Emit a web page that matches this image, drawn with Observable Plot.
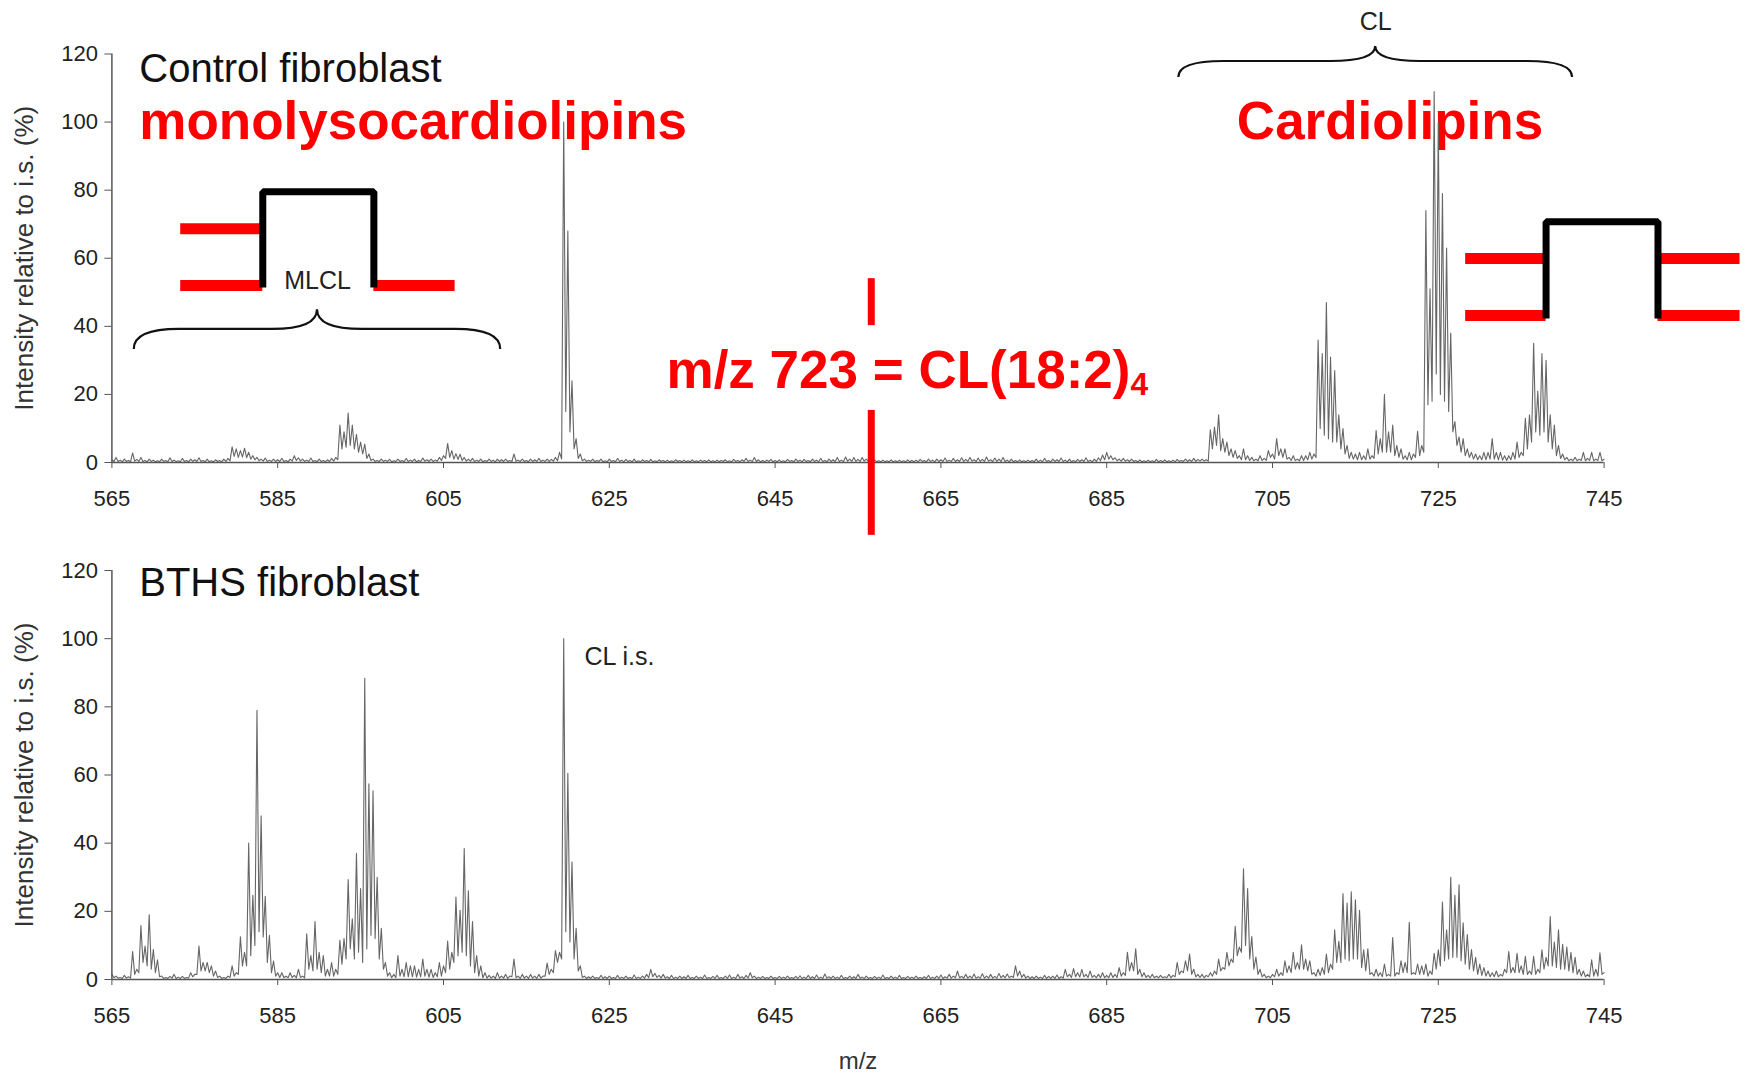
<!DOCTYPE html>
<html>
<head>
<meta charset="utf-8">
<script src="https://cdn.jsdelivr.net/npm/d3@7"></script>
<script src="https://cdn.jsdelivr.net/npm/@observablehq/plot@0.6"></script>
<style>
  body { margin: 0; background: #fff; }
  #fig { position: relative; width: 1746px; height: 1075px; font-family: "Liberation Sans", Arial, Helvetica, sans-serif; }
  #fig svg { position: absolute; left: 0; overflow: visible; }
</style>
</head>
<body>
<div id="fig"></div>
<script>
// Axis ticks
const xTicks = [565, 585, 605, 625, 645, 665, 685, 705, 725, 745];
const yTicks = [0, 20, 40, 60, 80, 100, 120];

// Spectra are sampled on the isotope grid: apexes every 0.5 m/z from 565,
// with one trough reading between each pair of neighbouring apexes.
const mzStart = 565;
const mzStep = 0.5;

// Control fibroblast: apex intensities (% of internal standard)
const controlPeaks = [
  0.8, 1.5, 0.7, 1.0, 0.6, 2.8, 0.9, 1.5, 0.6, 1.0,
  0.7, 0.5, 1.0, 0.6, 1.4, 0.7, 0.5, 1.2, 0.6, 1.0,
  0.8, 1.4, 0.6, 1.0, 0.5, 0.8, 0.6, 1.0, 1.2, 4.6,
  4.0, 3.5, 4.2, 3.0, 2.0, 1.5, 1.0, 1.3, 0.7, 1.0,
  0.8, 1.2, 0.6, 1.0, 2.0, 1.4, 1.0, 0.7, 1.3, 0.6,
  1.0, 0.6, 0.8, 1.2, 1.5, 11.0, 9.0, 14.5, 11.0, 8.3,
  6.0, 5.4, 2.5, 1.0, 0.6, 1.0, 0.7, 0.9, 0.5, 1.0,
  0.6, 1.2, 0.7, 1.0, 0.6, 1.3, 0.8, 1.0, 0.7, 1.5,
  2.0, 5.6, 3.5, 2.6, 2.4, 1.5, 1.0, 1.2, 0.7, 1.0,
  0.6, 1.0, 0.7, 1.0, 0.8, 1.0, 0.6, 2.5, 0.7, 1.0,
  0.6, 1.0, 0.8, 1.2, 0.7, 1.0, 0.9, 1.5, 3.0, 100,
  68, 24, 7.0, 2.5, 1.0, 0.7, 1.0, 0.6, 1.0, 0.5,
  1.0, 0.6, 1.2, 0.7, 0.9, 0.6, 1.0, 0.5, 0.8, 0.6,
  0.9, 0.5, 0.8, 0.6, 0.7, 0.5, 0.8, 0.6, 0.7, 0.5,
  0.8, 0.5, 0.7, 0.6, 0.8, 0.5, 0.7, 0.6, 0.8, 0.5,
  0.9, 0.6, 0.8, 1.2, 0.7, 1.5, 0.8, 0.6, 0.7, 0.9,
  0.6, 0.8, 0.5, 0.9, 0.6, 1.0, 0.7, 0.9, 0.6, 1.0,
  0.7, 1.2, 0.6, 1.0, 0.8, 1.5, 0.7, 1.6, 1.0, 1.5,
  0.9, 1.5, 1.0, 0.6, 0.8, 0.5, 0.7, 0.5, 0.8, 0.5,
  0.7, 0.5, 0.8, 0.6, 0.7, 0.9, 0.6, 1.0, 0.7, 1.0,
  0.8, 1.3, 0.7, 1.2, 0.8, 1.4, 0.9, 1.5, 0.8, 1.3,
  0.9, 1.6, 0.8, 1.3, 1.0, 1.5, 0.7, 1.0, 0.6, 0.8,
  0.5, 0.7, 0.6, 1.0, 0.7, 1.2, 0.6, 1.0, 0.8, 1.3,
  0.7, 1.0, 0.6, 0.9, 0.8, 1.4, 0.7, 1.0, 1.4, 2.2,
  3.0, 2.0, 1.4, 1.0, 1.2, 0.8, 1.0, 0.6, 0.8, 0.5,
  0.7, 0.5, 0.9, 0.6, 0.8, 0.5, 0.7, 0.9, 0.6, 1.0,
  0.8, 1.2, 0.9, 1.0, 0.8, 9.6, 10.4, 14.0, 7.0, 6.0,
  4.0, 3.5, 2.0, 4.0, 2.0, 1.5, 1.0, 2.0, 1.2, 3.5,
  2.5, 7.0, 4.0, 4.0, 1.5, 2.0, 1.0, 2.0, 2.0, 3.0,
  2.5, 36, 32, 47, 31, 27, 14, 10, 5.0, 3.0,
  2.5, 3.0, 2.0, 4.0, 2.0, 9.4, 7.0, 20, 9.0, 11,
  5.0, 4.0, 2.0, 3.0, 2.5, 9.2, 5.0, 74, 51, 109,
  100, 79, 63, 38, 12, 7.5, 7.0, 4.0, 3.0, 2.5,
  2.0, 3.0, 3.0, 7.0, 3.0, 3.0, 2.0, 2.0, 3.0, 6.0,
  3.0, 13, 14, 35, 21, 32, 30, 14, 11, 5.0,
  2.5, 1.5, 1.0, 1.5, 1.0, 3.0, 1.2, 3.0, 1.0, 3.0,
  1.0
];
// Control fibroblast: trough between apex i and apex i + 1
const controlValleys = [
  0.3, 0.3, 0.2, 0.3, 0.2, 0.4, 0.3, 0.3, 0.2, 0.3,
  0.2, 0.2, 0.3, 0.2, 0.3, 0.2, 0.2, 0.3, 0.2, 0.3,
  0.3, 0.3, 0.2, 0.2, 0.2, 0.3, 0.2, 0.3, 0.5, 1.8,
  1.5, 1.6, 1.4, 1.0, 0.8, 0.5, 0.4, 0.3, 0.3, 0.3,
  0.3, 0.3, 0.2, 0.4, 0.6, 0.4, 0.3, 0.3, 0.3, 0.2,
  0.3, 0.2, 0.3, 0.4, 0.8, 4.0, 4.5, 5.0, 4.0, 3.0,
  2.5, 1.2, 0.6, 0.3, 0.3, 0.3, 0.3, 0.2, 0.3, 0.3,
  0.2, 0.3, 0.3, 0.2, 0.3, 0.4, 0.3, 0.3, 0.4, 0.6,
  1.2, 1.5, 1.0, 0.9, 0.6, 0.4, 0.4, 0.3, 0.3, 0.2,
  0.3, 0.3, 0.2, 0.3, 0.3, 0.3, 0.3, 0.4, 0.3, 0.3,
  0.2, 0.3, 0.3, 0.3, 0.3, 0.3, 0.4, 0.5, 1.0, 15,
  9.0, 4.0, 1.2, 0.5, 0.3, 0.3, 0.2, 0.3, 0.2, 0.2,
  0.3, 0.2, 0.3, 0.2, 0.3, 0.2, 0.2, 0.2, 0.3, 0.2,
  0.2, 0.2, 0.3, 0.2, 0.2, 0.2, 0.3, 0.2, 0.2, 0.2,
  0.2, 0.2, 0.3, 0.2, 0.2, 0.2, 0.2, 0.3, 0.2, 0.2,
  0.3, 0.2, 0.3, 0.3, 0.3, 0.3, 0.2, 0.2, 0.3, 0.2,
  0.2, 0.2, 0.2, 0.3, 0.2, 0.3, 0.2, 0.3, 0.2, 0.3,
  0.2, 0.3, 0.2, 0.3, 0.3, 0.3, 0.3, 0.4, 0.3, 0.3,
  0.3, 0.4, 0.3, 0.2, 0.2, 0.2, 0.2, 0.2, 0.2, 0.2,
  0.2, 0.2, 0.2, 0.2, 0.2, 0.3, 0.2, 0.3, 0.2, 0.3,
  0.3, 0.3, 0.3, 0.3, 0.3, 0.3, 0.3, 0.4, 0.3, 0.3,
  0.3, 0.4, 0.3, 0.3, 0.3, 0.3, 0.2, 0.2, 0.2, 0.2,
  0.2, 0.2, 0.2, 0.2, 0.2, 0.3, 0.2, 0.3, 0.3, 0.3,
  0.2, 0.2, 0.2, 0.3, 0.3, 0.3, 0.2, 0.3, 0.5, 0.8,
  1.0, 0.8, 0.5, 0.4, 0.4, 0.3, 0.3, 0.2, 0.2, 0.2,
  0.2, 0.2, 0.2, 0.2, 0.2, 0.2, 0.2, 0.3, 0.3, 0.3,
  0.3, 0.3, 0.4, 0.4, 0.4, 4.0, 5.0, 3.5, 3.0, 2.0,
  1.5, 1.2, 0.8, 0.8, 0.6, 0.5, 0.5, 0.6, 0.6, 1.5,
  1.0, 2.0, 1.5, 1.0, 0.6, 0.6, 0.5, 0.6, 0.8, 1.0,
  1.5, 10, 8.0, 7.0, 6.0, 6.0, 4.0, 2.5, 1.2, 1.0,
  0.8, 0.8, 0.8, 1.0, 1.2, 2.5, 3.0, 3.0, 3.0, 2.0,
  1.5, 1.0, 0.8, 0.8, 1.5, 2.0, 3.0, 17, 18, 26,
  20, 18, 15, 9.0, 5.0, 3.0, 2.0, 1.5, 1.0, 0.8,
  0.8, 0.8, 1.0, 1.0, 0.8, 0.7, 0.6, 0.8, 1.0, 1.5,
  2.0, 4.0, 6.0, 9.0, 8.0, 9.0, 6.0, 4.0, 2.0, 1.2,
  0.8, 0.5, 0.5, 0.5, 0.6, 0.5, 0.6, 0.5, 0.6, 0.5
];

// BTHS fibroblast: apex intensities (% of internal standard)
const bthsPeaks = [
  1.5, 1.0, 0.6, 1.2, 0.8, 8.2, 3.0, 15.8, 9.8, 19.0,
  8.8, 5.8, 1.0, 0.6, 0.9, 1.5, 0.7, 0.9, 0.6, 2.0,
  1.5, 9.8, 5.0, 5.0, 4.0, 2.5, 1.0, 0.6, 1.0, 4.0,
  2.0, 12.5, 8.0, 40, 24.7, 79, 48, 24.4, 13, 5.4,
  2.0, 2.0, 1.0, 2.0, 1.2, 3.0, 1.0, 13.4, 7.0, 17,
  8.0, 7.0, 3.0, 5.0, 3.0, 11.5, 12, 29.3, 17.8, 37,
  26.7, 88.4, 57.4, 55.4, 30, 15, 5.0, 2.0, 1.5, 7.0,
  3.0, 5.0, 4.0, 4.0, 3.0, 6.0, 3.0, 3.0, 2.0, 5.0,
  4.0, 11.3, 8.0, 24.2, 20.3, 38.4, 26, 17, 7.0, 4.0,
  2.0, 1.2, 1.0, 2.0, 1.0, 1.5, 1.0, 6.0, 1.0, 1.5,
  1.0, 1.5, 1.0, 1.5, 1.0, 4.8, 3.0, 8.5, 8.0, 100,
  60.5, 34.5, 15, 4.0, 1.0, 0.8, 1.0, 0.6, 1.2, 0.8,
  1.0, 0.6, 1.2, 0.7, 1.0, 0.6, 1.3, 0.7, 1.0, 1.5,
  3.0, 1.8, 1.2, 1.5, 0.8, 1.2, 0.7, 1.0, 0.8, 1.2,
  0.6, 1.0, 0.7, 1.3, 0.6, 0.9, 1.2, 0.6, 1.0, 1.3,
  0.7, 1.5, 0.8, 1.2, 2.0, 1.0, 0.7, 0.9, 0.6, 1.0,
  0.6, 0.9, 0.7, 1.0, 0.6, 0.9, 1.1, 0.7, 1.2, 0.8,
  1.3, 0.7, 1.6, 0.8, 1.0, 0.7, 1.2, 0.6, 1.0, 0.8,
  1.5, 0.7, 1.0, 0.6, 0.9, 0.7, 1.3, 0.6, 1.0, 0.7,
  1.2, 0.6, 0.9, 0.7, 1.0, 0.6, 0.8, 1.2, 0.7, 1.0,
  1.3, 0.8, 1.5, 1.0, 2.5, 0.9, 1.5, 1.0, 1.6, 0.8,
  1.7, 1.0, 1.5, 0.9, 1.8, 1.2, 1.6, 1.0, 4.0, 2.5,
  1.5, 1.0, 0.8, 1.0, 0.7, 1.2, 0.9, 1.0, 1.3, 0.8,
  3.0, 1.5, 3.2, 2.0, 3.0, 1.5, 2.5, 1.2, 1.5, 2.0,
  1.2, 2.0, 1.5, 3.5, 2.0, 8.0, 5.0, 9.0, 3.0, 2.0,
  1.2, 1.5, 1.0, 1.2, 0.8, 1.5, 1.2, 5.0, 2.5, 5.5,
  7.5, 3.0, 1.5, 1.5, 1.2, 2.0, 2.5, 6.0, 3.5, 8.0,
  6.0, 15.6, 9.5, 32.5, 26.7, 12.6, 6.6, 3.0, 1.5, 1.0,
  1.5, 3.0, 2.0, 5.5, 4.0, 8.0, 5.0, 10.2, 6.0, 5.5,
  2.0, 3.0, 3.5, 7.5, 4.5, 14.6, 11.2, 25.2, 22.4, 25.7,
  23.4, 20.3, 8.7, 9.0, 2.0, 3.0, 2.0, 4.5, 1.5, 12.3,
  2.0, 5.5, 5.0, 16.8, 2.0, 4.5, 4.0, 4.5, 2.5, 7.7,
  8.7, 22.7, 14.6, 30, 24.7, 27.8, 16.6, 13.2, 8.8, 6.5,
  4.5, 3.5, 2.5, 2.0, 2.5, 1.5, 3.0, 8.2, 3.5, 7.7,
  4.0, 6.8, 2.5, 6.8, 3.0, 8.7, 6.5, 18.5, 11, 14.6,
  10.3, 9.5, 8.0, 6.5, 3.0, 2.5, 1.5, 5.8, 3.0, 7.8,
  2.0
];
// BTHS fibroblast: trough between apex i and apex i + 1
const bthsValleys = [
  0.5, 0.4, 0.3, 0.4, 0.4, 1.5, 2.0, 5.0, 4.0, 3.0,
  2.0, 0.8, 0.3, 0.3, 0.4, 0.3, 0.3, 0.3, 0.4, 0.8,
  1.5, 2.5, 2.5, 2.0, 1.0, 0.6, 0.3, 0.3, 0.6, 1.0,
  1.5, 4.0, 4.0, 7.0, 10, 14, 12.5, 5.0, 2.0, 1.0,
  0.6, 0.5, 0.5, 0.6, 0.5, 0.6, 0.5, 3.0, 2.5, 3.0,
  2.0, 1.0, 1.0, 1.0, 1.5, 4.5, 6.0, 9.0, 6.0, 8.0,
  5.0, 9.0, 13, 12, 6.0, 3.0, 1.0, 0.5, 0.5, 1.0,
  0.8, 0.8, 0.8, 0.7, 0.8, 1.0, 0.7, 0.6, 0.8, 1.0,
  2.0, 3.0, 5.0, 7.0, 8.0, 7.0, 4.0, 2.0, 1.0, 0.5,
  0.4, 0.4, 0.3, 0.4, 0.4, 0.3, 0.8, 0.5, 0.3, 0.4,
  0.3, 0.4, 0.3, 0.4, 1.0, 1.5, 2.0, 5.0, 6.0, 14,
  11, 6.0, 2.5, 0.6, 0.3, 0.3, 0.3, 0.3, 0.3, 0.3,
  0.3, 0.3, 0.3, 0.3, 0.3, 0.3, 0.3, 0.3, 0.4, 0.5,
  0.8, 0.6, 0.4, 0.4, 0.3, 0.3, 0.3, 0.3, 0.3, 0.3,
  0.3, 0.3, 0.3, 0.3, 0.3, 0.3, 0.3, 0.3, 0.3, 0.3,
  0.3, 0.4, 0.3, 0.4, 0.5, 0.3, 0.3, 0.3, 0.3, 0.3,
  0.3, 0.3, 0.3, 0.3, 0.3, 0.3, 0.3, 0.3, 0.3, 0.3,
  0.3, 0.3, 0.4, 0.3, 0.3, 0.3, 0.3, 0.3, 0.3, 0.3,
  0.4, 0.3, 0.3, 0.3, 0.3, 0.3, 0.3, 0.3, 0.3, 0.3,
  0.3, 0.3, 0.3, 0.3, 0.3, 0.3, 0.3, 0.3, 0.3, 0.3,
  0.3, 0.4, 0.4, 0.5, 0.5, 0.4, 0.4, 0.4, 0.4, 0.4,
  0.4, 0.4, 0.4, 0.4, 0.5, 0.5, 0.5, 0.6, 1.0, 0.6,
  0.4, 0.3, 0.3, 0.3, 0.3, 0.3, 0.3, 0.3, 0.3, 0.4,
  0.8, 0.6, 0.8, 0.7, 0.8, 0.6, 0.6, 0.5, 0.5, 0.5,
  0.5, 0.6, 0.6, 1.0, 1.2, 2.5, 2.5, 1.5, 0.8, 0.6,
  0.5, 0.5, 0.5, 0.5, 0.5, 0.5, 0.8, 1.5, 2.0, 2.5,
  1.5, 0.8, 0.6, 0.5, 0.8, 1.0, 1.5, 2.5, 3.0, 4.0,
  5.0, 7.0, 8.0, 10, 6.0, 3.0, 1.5, 0.8, 0.5, 0.5,
  0.8, 1.0, 1.2, 2.0, 2.0, 3.0, 3.0, 3.0, 2.5, 1.5,
  1.0, 1.2, 1.5, 2.0, 3.0, 5.0, 5.0, 6.0, 5.5, 6.0,
  6.0, 3.5, 2.5, 1.5, 1.0, 1.0, 0.8, 1.0, 1.0, 1.0,
  1.5, 2.0, 2.0, 1.5, 1.5, 1.5, 1.5, 1.0, 1.5, 3.0,
  4.0, 5.5, 6.0, 6.5, 6.5, 5.5, 4.5, 3.0, 2.5, 1.5,
  1.2, 1.0, 0.8, 0.8, 0.8, 1.0, 2.0, 2.0, 2.0, 2.0,
  1.5, 1.5, 1.5, 1.5, 2.0, 3.0, 4.0, 4.0, 3.5, 3.0,
  3.0, 2.5, 2.0, 1.5, 1.0, 0.8, 0.8, 1.0, 1.0, 1.5
];

// Annotation texts
const panelTitles = ["Control fibroblast", "BTHS fibroblast"];
const classLabels = ["monolysocardiolipins", "Cardiolipins"];
const markerLabel = "m/z 723 = CL(18:2)";
const markerSub = "4";
const markerMz = 656.6;
const yLabel = "Intensity relative to i.s. (%)";
const xLabel = "m/z";

// Lipid cartoons (m/z, intensity units of the control panel):
// black glycerol bridge and red acyl chains
const mlclBridge = [{x: 583.2, y: 51.4}, {x: 583.2, y: 79.5}, {x: 596.6, y: 79.5}, {x: 596.6, y: 51.4}];
const clBridge = [{x: 738.0, y: 42.3}, {x: 738.0, y: 70.7}, {x: 751.5, y: 70.7}, {x: 751.5, y: 42.3}];
const acylChains = [
  {x1: 573.3, x2: 583.2, y: 68.7}, {x1: 573.3, x2: 583.2, y: 52.0}, {x1: 596.6, x2: 606.4, y: 52.0},
  {x1: 728.3, x2: 738.0, y: 59.9}, {x1: 728.3, x2: 738.0, y: 43.2},
  {x1: 751.5, x2: 761.4, y: 59.9}, {x1: 751.5, x2: 761.4, y: 43.2}
];
const braces = [
  {x0: 567.7, x1: 611.9, yEnd: 33.2, yFlat: 39.1, yTip: 44.9, label: "MLCL", labelY: 53.2},
  {x0: 693.7, x1: 741.2, yEnd: 113.1, yFlat: 117.8, yTip: 122.2, label: "CL", labelY: 129.3}
];

const RED = "#ff0000";
const FONT = "'Liberation Sans', Arial, Helvetica, sans-serif";

function spectrum(peaks, valleys) {
  const pts = [];
  peaks.forEach((p, i) => {
    pts.push({mz: mzStart + i * mzStep, v: p});
    if (i < valleys.length) pts.push({mz: mzStart + (i + 0.5) * mzStep, v: valleys[i]});
  });
  return pts;
}

// Curly brace drawn through the chart's own scales
function braceMark(b) {
  return (index, scales) => {
    const X0 = scales.x(b.x0), X1 = scales.x(b.x1), XM = (X0 + X1) / 2;
    const YE = scales.y(b.yEnd), YF = scales.y(b.yFlat), YT = scales.y(b.yTip);
    const r = 45;
    const d = `M${X0},${YE} Q${X0},${YF} ${X0 + r},${YF} L${XM - r},${YF} Q${XM},${YF} ${XM},${YT}` +
              ` Q${XM},${YF} ${XM + r},${YF} L${X1 - r},${YF} Q${X1},${YF} ${X1},${YE}`;
    return d3.create("svg:path")
      .attr("d", d).attr("fill", "none").attr("stroke", "#111").attr("stroke-width", 2.2)
      .node();
  };
}

function frameMarks(fontSize) {
  return [
    Plot.ruleY([0], {stroke: "#555", strokeWidth: 1.5}),
    Plot.ruleX([565], {stroke: "#555", strokeWidth: 1.5}),
    Plot.axisX({ticks: xTicks, tickSize: 6, tickPadding: 22, label: null, fontSize, stroke: "#555", fill: "#222"}),
    Plot.axisY({ticks: yTicks, tickSize: 7, tickPadding: 7, label: null, fontSize, stroke: "#555", fill: "#222"}),
    Plot.text([yLabel], {frameAnchor: "left", dx: -87, rotate: -90, textAnchor: "middle", lineAnchor: "middle",
      fontSize: 26, fill: "#333", text: d => d})
  ];
}

const common = {
  width: 1746,
  marginLeft: 111.4,
  marginRight: 142.4,
  x: {domain: [565, 745]},
  y: {domain: [0, 120]},
  style: {background: "transparent", color: "#222", fontFamily: FONT, overflow: "visible"}
};

// Control fibroblast panel
const controlChart = Plot.plot({
  ...common,
  height: 540,
  marginTop: 53.5,
  marginBottom: 78,
  marks: [
    Plot.text([panelTitles[0]], {x: 568.3, y: 111.9, text: d => d, textAnchor: "start", lineAnchor: "bottom",
      fontSize: 40, fill: "#111"}),
    Plot.text([classLabels[0]], {x: 568.3, y: 94.9, text: d => d, textAnchor: "start", lineAnchor: "bottom",
      fontSize: 53, fontWeight: "bold", fill: RED}),
    Plot.text([classLabels[1]], {x: 700.7, y: 94.9, text: d => d, textAnchor: "start", lineAnchor: "bottom",
      fontSize: 53, fontWeight: "bold", fill: RED}),
    Plot.text([markerLabel], {x: 631.9, y: 21.9, text: d => d, textAnchor: "start", lineAnchor: "bottom",
      fontSize: 53, fontWeight: "bold", fill: RED}),
    Plot.ruleY(acylChains, {y: "y", x1: "x1", x2: "x2", stroke: RED, strokeWidth: 11}),
    Plot.line(mlclBridge, {x: "x", y: "y", stroke: "#000", strokeWidth: 7, strokeLinejoin: "miter", strokeLinecap: "butt"}),
    Plot.line(clBridge, {x: "x", y: "y", stroke: "#000", strokeWidth: 7, strokeLinejoin: "miter", strokeLinecap: "butt"}),
    ...braces.map(braceMark),
    Plot.text(braces, {x: d => (d.x0 + d.x1) / 2, y: "labelY", text: "label", lineAnchor: "middle",
      fontSize: 25, fill: "#222"}),
    Plot.line(spectrum(controlPeaks, controlValleys), {x: "mz", y: "v", stroke: "#666", strokeWidth: 1.1}),
    ...frameMarks(22),
    Plot.ruleX([markerMz], {y1: 54, y2: 40.2, stroke: RED, strokeWidth: 7}),
    Plot.ruleX([markerMz], {y1: 15.3, y2: -21.4, stroke: RED, strokeWidth: 7})
  ]
});

// BTHS fibroblast panel
const bthsChart = Plot.plot({
  ...common,
  height: 535,
  marginTop: 30,
  marginBottom: 96,
  marks: [
    Plot.text([panelTitles[1]], {x: 568.3, y: 112.4, text: d => d, textAnchor: "start", lineAnchor: "bottom",
      fontSize: 40, fill: "#111"}),
    Plot.text(["CL i.s."], {x: 622.0, y: 94.5, text: d => d, textAnchor: "start", lineAnchor: "middle",
      fontSize: 25, fill: "#222"}),
    Plot.line(spectrum(bthsPeaks, bthsValleys), {x: "mz", y: "v", stroke: "#666", strokeWidth: 1.1}),
    ...frameMarks(22),
    Plot.text([xLabel], {frameAnchor: "bottom", dy: 82, lineAnchor: "middle", fontSize: 24, fill: "#333", text: d => d})
  ]
});

controlChart.style.top = "0px";
bthsChart.style.top = "540px";

// subscript for the CL(18:2)4 label
d3.select(controlChart).selectAll("text")
  .filter(function () { return this.textContent === markerLabel; })
  .append("tspan").attr("dy", "0.22em").attr("font-size", "0.6em").text(markerSub);

const fig = document.getElementById("fig");
fig.appendChild(controlChart);
fig.appendChild(bthsChart);
</script>
</body>
</html>
